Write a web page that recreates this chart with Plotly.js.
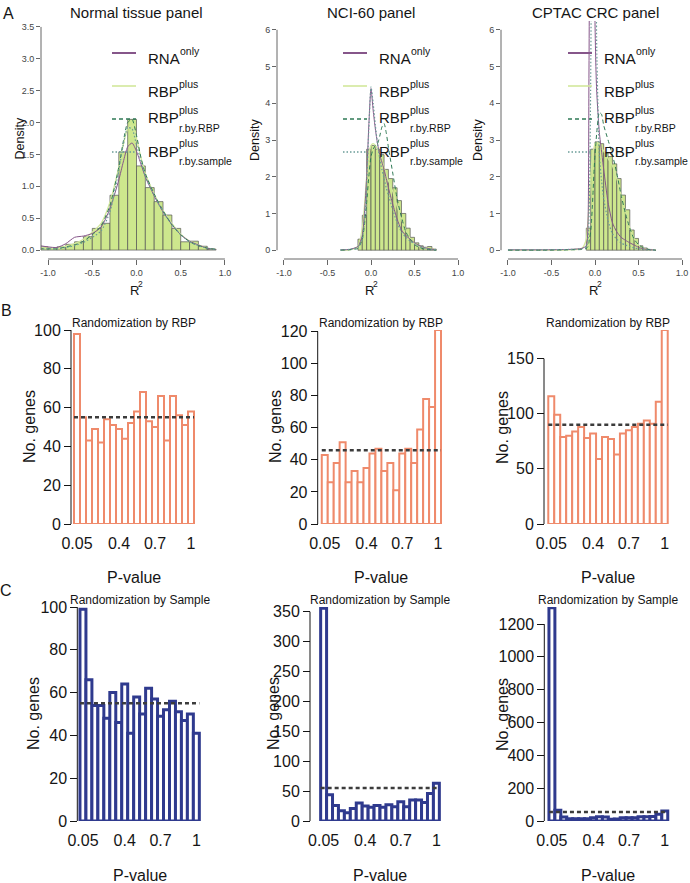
<!DOCTYPE html>
<html>
<head>
<meta charset="utf-8">
<script src="https://cdn.plot.ly/plotly-3.0.1.min.js"></script>
<style>
  html, body { margin: 0; padding: 0; background: #fff; }
  #chart { width: 690px; height: 883px; }
</style>
</head>
<body>
<div id="chart"></div>
<script>
// ---------- row A: density of R^2 ----------
const r2TickVals = [-1, -0.5, 0, 0.5, 1];
const r2TickText = ['-1.0', '-0.5', '0.0', '0.5', '1.0'];
const normDensTicks = [0, 0.5, 1, 1.5, 2, 2.5, 3, 3.5];
const normDensText = ['0.0', '0.5', '1.0', '1.5', '2.0', '2.5', '3.0', '3.5'];
const panelDensTicks = [0, 1, 2, 3, 4, 5, 6];

// Normal tissue panel
const normBins = [-1.1, -1.0, -0.9, -0.8, -0.7, -0.6, -0.5, -0.4, -0.3, -0.2, -0.1, 0.0, 0.1, 0.2, 0.3, 0.4, 0.5, 0.6, 0.7, 0.8];
const normHist = [0.05, 0.03, 0.05, 0.09, 0.13, 0.21, 0.34, 0.42, 0.86, 1.54, 2.05, 1.32, 0.98, 0.76, 0.55, 0.34, 0.13, 0.14, 0.06, 0.01];
const normGrid = [-1.1, -1.0, -0.9, -0.8, -0.7, -0.6, -0.5, -0.4, -0.3, -0.2, -0.15, -0.1, -0.05, 0, 0.05, 0.1, 0.2, 0.3, 0.4, 0.5, 0.6, 0.7, 0.8, 0.9];
const normRna    = [0.07, 0.05, 0.04, 0.1, 0.2, 0.22, 0.26, 0.36, 0.65, 1.1, 1.38, 1.62, 1.68, 1.55, 1.35, 1.15, 0.85, 0.6, 0.4, 0.24, 0.14, 0.08, 0.03, 0.01];
const normPlus   = [0.04, 0.03, 0.03, 0.06, 0.1, 0.17, 0.28, 0.42, 0.75, 1.3, 1.65, 1.9, 1.95, 1.75, 1.45, 1.2, 0.88, 0.62, 0.42, 0.25, 0.14, 0.08, 0.03, 0.01];
const normRbp    = [0.02, 0.02, 0.02, 0.05, 0.08, 0.14, 0.24, 0.38, 0.7, 1.3, 1.7, 2.0, 2.05, 1.8, 1.45, 1.2, 0.88, 0.62, 0.4, 0.24, 0.13, 0.07, 0.03, 0.01];
const normSample = [0.02, 0.02, 0.02, 0.04, 0.07, 0.12, 0.2, 0.3, 0.6, 1.25, 1.65, 1.92, 1.9, 1.65, 1.4, 1.15, 0.86, 0.6, 0.4, 0.24, 0.13, 0.07, 0.03, 0.01];

// NCI-60 panel
const nciBins = [-0.15, -0.1, -0.05, 0, 0.05, 0.1, 0.15, 0.2, 0.25, 0.3, 0.35, 0.4, 0.45, 0.5, 0.55, 0.6, 0.65, 0.7];
const nciHist = [0.3, 0.95, 2.75, 2.85, 2.75, 2.6, 2.2, 1.95, 1.7, 1.35, 1.0, 0.6, 0.35, 0.2, 0.12, 0.08, 0.1, 0.03];
const nciGrid = [-0.35, -0.25, -0.15, -0.1, -0.075, -0.05, -0.025, 0, 0.025, 0.05, 0.075, 0.1, 0.125, 0.15, 0.175, 0.2, 0.25, 0.3, 0.35, 0.4, 0.45, 0.5, 0.55, 0.6, 0.65, 0.75];
const nciRna    = [0.01, 0.02, 0.1, 0.4, 1.0, 2.0, 3.4, 4.4, 3.8, 3.3, 2.9, 2.6, 2.4, 2.2, 1.95, 1.7, 1.25, 0.85, 0.55, 0.4, 0.3, 0.2, 0.13, 0.08, 0.05, 0.01];
const nciPlus   = [0, 0.01, 0.1, 0.6, 1.2, 2.0, 2.6, 2.85, 2.9, 2.85, 2.75, 2.6, 2.45, 2.25, 2.05, 1.9, 1.6, 1.2, 0.85, 0.55, 0.32, 0.18, 0.1, 0.07, 0.06, 0.01];
const nciRbp    = [0, 0.01, 0.05, 0.3, 0.7, 1.3, 2.0, 2.55, 2.75, 2.85, 2.9, 3.1, 3.35, 3.45, 3.2, 2.8, 2.1, 1.4, 0.9, 0.5, 0.3, 0.15, 0.08, 0.04, 0.02, 0];
const nciSample = [0.01, 0.02, 0.08, 0.3, 0.8, 1.8, 3.3, 4.45, 4.0, 3.4, 2.9, 2.5, 2.2, 1.95, 1.7, 1.5, 1.1, 0.75, 0.5, 0.35, 0.25, 0.17, 0.11, 0.07, 0.04, 0.01];

// CPTAC CRC panel
const crcBins = [-0.1, -0.05, 0, 0.05, 0.1, 0.15, 0.2, 0.25, 0.3, 0.35, 0.4, 0.45, 0.5, 0.55, 0.6];
const crcHist = [0.6, 2.75, 2.95, 2.9, 2.65, 2.55, 2.35, 1.95, 1.5, 1.1, 0.55, 0.32, 0.12, 0.06, 0.02];
const crcGrid = [-1.0, -0.6, -0.3, -0.15, -0.1, -0.08, -0.07, -0.06, -0.05, -0.04, -0.03, -0.02, -0.01, 0, 0.01, 0.02, 0.05, 0.075, 0.1, 0.15, 0.2, 0.25, 0.3, 0.35, 0.4, 0.45, 0.5, 0.55, 0.6, 0.7];
const crcRna    = [0.01, 0.01, 0.02, 0.05, 0.12, 0.8, 4.5, 9, 12, 13, 12, 10, 8, 6.2, 5.0, 4.3, 3.2, 2.7, 2.2, 1.3, 0.75, 0.5, 0.35, 0.27, 0.2, 0.14, 0.08, 0.04, 0.02, 0];
const crcPlus   = [0, 0, 0.01, 0.05, 0.3, 0.8, 1.2, 1.6, 2.0, 2.3, 2.5, 2.7, 2.8, 2.9, 2.92, 2.93, 2.9, 2.8, 2.7, 2.5, 2.3, 1.95, 1.5, 1.05, 0.6, 0.32, 0.14, 0.06, 0.02, 0];
const crcRbp    = [0, 0, 0.01, 0.02, 0.05, 0.1, 0.2, 0.35, 0.5, 0.8, 1.2, 1.7, 2.2, 2.6, 2.9, 3.2, 3.75, 3.7, 3.4, 3.0, 2.6, 2.1, 1.5, 1.0, 0.6, 0.3, 0.15, 0.07, 0.03, 0];
const crcSample = [0.01, 0.01, 0.02, 0.04, 0.1, 0.3, 0.8, 2, 4.5, 8, 11, 12.5, 12.5, 11, 8.5, 5.5, 2.6, 1.9, 1.4, 0.8, 0.45, 0.3, 0.2, 0.14, 0.1, 0.06, 0.04, 0.02, 0.01, 0];

// ---------- rows B and C: p-value histograms ----------
const pLabels = ['0.05', '0.1', '0.15', '0.2', '0.25', '0.3', '0.35', '0.4', '0.45', '0.5', '0.55', '0.6', '0.65', '0.7', '0.75', '0.8', '0.85', '0.9', '0.95', '1'];
const pTickLabels = ['0.05', '0.4', '0.7', '1'];
const rbpNormal = [98, 55, 43, 49, 42, 54, 51, 49, 44, 52, 58, 68, 53, 50, 66, 43, 66, 56, 51, 58];
const rbpNci    = [43, 26, 38, 51, 26, 33, 26, 35, 44, 47, 33, 38, 21, 44, 47, 38, 59, 78, 73, 121];
const rbpCrc    = [116, 99, 79, 80, 84, 88, 78, 82, 59, 79, 77, 63, 82, 85, 88, 91, 94, 91, 111, 176];
const rbpExpected = [55, 46, 90];
const smpNormal = [99, 66, 54, 54, 48, 60, 46, 64, 41, 58, 50, 62, 57, 49, 52, 56, 51, 47, 50, 41];
const smpNci    = [356, 44, 26, 17, 14, 21, 30, 25, 23, 26, 23, 27, 24, 32, 24, 35, 35, 31, 46, 63];
const smpCrc    = [1300, 65, 24, 14, 14, 14, 14, 20, 26, 24, 10, 12, 20, 20, 20, 26, 26, 28, 41, 61];
const smpExpected = [55, 55, 55];
const countTicksB = [[0, 20, 40, 60, 80, 100], [0, 20, 40, 60, 80, 100, 120], [0, 50, 100, 150]];
const countTicksC = [[0, 20, 40, 60, 80, 100], [0, 50, 100, 150, 200, 250, 300, 350], [0, 200, 400, 600, 800, 1000, 1200]];

const panelTitles = ['Normal tissue panel', 'NCI-60 panel', 'CPTAC CRC panel'];

// ---------- layout helpers ----------
const W = 690, H = 883;
const px = x => x / W;
const py = y => 1 - y / H;
const FONT = 'Liberation Sans, Arial, Helvetica, sans-serif';
const INK = '#151515';

const traces = [];
const shapes = [];
const annotations = [];
const layout = {
  width: W, height: H,
  margin: { l: 0, r: 0, t: 0, b: 0 },
  paper_bgcolor: '#fff', plot_bgcolor: '#fff',
  showlegend: false, bargap: 0,
  font: { family: FONT, color: INK }
};

function txt(text, x, y, size, extra) {
  return Object.assign({
    text: text, x: px(x), y: py(y), xref: 'paper', yref: 'paper',
    showarrow: false, xanchor: 'center', yanchor: 'middle', borderpad: 0,
    font: { family: FONT, size: size, color: INK }
  }, extra || {});
}

// ---------- row A ----------
const styles = {
  plus:   { color: '#d3e89c', width: 1.3, dash: 'solid' },
  rna:    { color: '#86568a', width: 1, dash: 'solid' },
  rbp:    { color: '#2f7a55', width: 1, dash: '4px,3px' },
  sample: { color: '#6a9c98', width: 1.2, dash: '1.5px,2px' }
};
const densData = [
  { bins: normBins, hist: normHist, w: 0.1, grid: normGrid, plus: normPlus, rna: normRna, rbp: normRbp, sample: normSample },
  { bins: nciBins, hist: nciHist, w: 0.05, grid: nciGrid, plus: nciPlus, rna: nciRna, rbp: nciRbp, sample: nciSample },
  { bins: crcBins, hist: crcHist, w: 0.05, grid: crcGrid, plus: crcPlus, rna: crcRna, rbp: crcRbp, sample: crcSample }
];
const boxA = [
  { x: [41, 232], y: [18, 259], yr: [-0.14, 3.64], ticks: normDensTicks, text: normDensText, lab: 20, leg: 112 },
  { x: [277, 465], y: [21, 259], yr: [-0.24, 6.24], ticks: panelDensTicks, text: panelDensTicks.map(String), lab: 255, leg: 343 },
  { x: [501, 689], y: [21, 259], yr: [-0.24, 6.24], ticks: panelDensTicks, text: panelDensTicks.map(String), lab: 478, leg: 568 }
];

const measure = document.createElement('canvas').getContext('2d');
function textWidth(s, size) {
  measure.font = size + 'px "Liberation Sans", Arial, sans-serif';
  return measure.measureText(s).width;
}

const legendItems = [
  { base: 'RNA', sup: 'only', sub: '', key: 'rna', lw: 2 },
  { base: 'RBP', sup: 'plus', sub: '', key: 'plus', lw: 1.6 },
  { base: 'RBP', sup: 'plus', sub: 'r.by.RBP', key: 'rbp', lw: 1.5 },
  { base: 'RBP', sup: 'plus', sub: 'r.by.sample', key: 'sample', lw: 1.5 }
];
const legendY = [53, 86, 119, 152];

densData.forEach((d, i) => {
  const s = i === 0 ? '' : String(i + 1);
  const b = boxA[i];
  traces.push({
    type: 'bar', x: d.bins, y: d.hist, width: d.w, offset: 0,
    xaxis: 'x' + s, yaxis: 'y' + s,
    marker: { color: '#cde78d', line: { color: '#555', width: 0.7 } },
    hoverinfo: 'skip'
  });
  ['plus', 'rna', 'rbp', 'sample'].forEach(k => {
    traces.push({
      type: 'scatter', mode: 'lines', x: d.grid, y: d[k],
      xaxis: 'x' + s, yaxis: 'y' + s,
      line: Object.assign({ shape: 'spline', smoothing: 0.6 }, styles[k]),
      hoverinfo: 'skip'
    });
  });
  layout['xaxis' + s] = {
    domain: [px(b.x[0]), px(b.x[1])], anchor: 'y' + s, range: [-1.08, 1.08],
    tickvals: r2TickVals, ticktext: r2TickText, ticks: 'outside', ticklen: 5,
    tickcolor: '#666', tickfont: { size: 9, color: '#444', family: FONT },
    showgrid: false, zeroline: false, showline: false, fixedrange: true
  };
  layout['yaxis' + s] = {
    domain: [py(b.y[1]), py(b.y[0])], anchor: 'x' + s, range: b.yr,
    tickvals: b.ticks, ticktext: b.text, ticks: 'outside', ticklen: 4,
    tickcolor: '#666', tickfont: { size: 9, color: '#444', family: FONT },
    showgrid: false, zeroline: false, showline: false, fixedrange: true
  };
  shapes.push({ type: 'line', xref: 'x' + s, yref: 'y' + s + ' domain', x0: -1, x1: 1, y0: 0, y1: 0,
    line: { color: '#666', width: 1 } });
  shapes.push({ type: 'line', xref: 'x' + s + ' domain', yref: 'y' + s, x0: 0, x1: 0, y0: 0, y1: b.ticks[b.ticks.length - 1],
    line: { color: '#666', width: 1 } });

  const cx = (b.x[0] + b.x[1]) / 2;
  annotations.push(txt(panelTitles[i], cx, 12, 15));
  annotations.push(txt('Density', b.lab, (b.y[0] + b.y[1]) / 2, 12.5, { textangle: -90 }));
  annotations.push(txt('R', cx - 2, 290, 13));
  annotations.push(txt('2', cx + 4, 284, 8.5));

  // legend
  legendItems.forEach((it, j) => {
    const ly = legendY[j];
    const st = styles[it.key];
    shapes.push({ type: 'line', xref: 'paper', yref: 'paper',
      x0: px(b.leg), x1: px(b.leg + 24), y0: py(ly), y1: py(ly),
      line: { color: st.color, width: it.lw, dash: st.dash } });
    const tx = b.leg + 35;
    const baseY = it.sub ? ly - 1 : ly + 6;
    const sx = tx + textWidth(it.base, 15) + 0.5;
    annotations.push(txt(it.base, tx, baseY, 15, { xanchor: 'left' }));
    annotations.push(txt(it.sup, sx, baseY - 8, 10.5, { xanchor: 'left' }));
    if (it.sub) annotations.push(txt(it.sub, sx, baseY + 10, 10.5, { xanchor: 'left' }));
  });
});

// ---------- rows B and C ----------
const countRows = [
  { series: [rbpNormal, rbpNci, rbpCrc], expected: rbpExpected, ticks: countTicksB,
    color: '#ef8a6b', lw: 2, y: [330, 524], top: [100, 121, 176],
    x: [[69.2, 198.8], [317, 445.8], [543.5, 672.5]], axisX: [71, 317.7, 544],
    label: 'Randomization by RBP', labX: [29, 275, 502], pY: 577 },
  { series: [smpNormal, smpNci, smpCrc], expected: smpExpected, ticks: countTicksC,
    color: '#2f3a8e', lw: 3, y: [607, 821], top: [100, 358, 1304],
    x: [[75.2, 204.1], [315.9, 444.1], [544.2, 672.5]], axisX: [77.3, 310, 544.3],
    label: 'Randomization by Sample', labX: [33, 273, 502], pY: 875 }
];

countRows.forEach((row, r) => {
  row.series.forEach((vals, i) => {
    const n = 4 + r * 3 + i;
    const s = String(n);
    traces.push({
      type: 'bar', x: pLabels, y: vals, xaxis: 'x' + s, yaxis: 'y' + s,
      marker: { color: '#fff', line: { color: row.color, width: row.lw } },
      hoverinfo: 'skip'
    });
    const tk = row.ticks[i];
    layout['xaxis' + s] = {
      domain: [px(row.x[i][0]), px(row.x[i][1])], anchor: 'y' + s,
      type: 'category', categoryorder: 'array', categoryarray: pLabels,
      range: [-1.3, pLabels.length + 0.3], tickvals: pTickLabels, ticks: '',
      ticklabelstandoff: 8, tickfont: { size: 16, color: INK, family: FONT },
      showgrid: false, zeroline: false, showline: false, fixedrange: true
    };
    layout['yaxis' + s] = {
      domain: [py(row.y[1]), py(row.y[0])], anchor: 'free', position: px(row.axisX[i]),
      range: [0, row.top[i]], tickvals: tk, ticks: 'outside', ticklen: 7,
      tickcolor: INK, tickfont: { size: 16, color: INK, family: FONT },
      showgrid: false, zeroline: false, showline: false, fixedrange: true
    };
    shapes.push({ type: 'line', xref: 'paper', yref: 'y' + s,
      x0: px(row.axisX[i]), x1: px(row.axisX[i]), y0: 0, y1: tk[tk.length - 1],
      line: { color: INK, width: 1 } });
    shapes.push({ type: 'line', xref: 'x' + s, yref: 'y' + s,
      x0: -0.5, x1: pLabels.length - 0.5, y0: row.expected[i], y1: row.expected[i],
      line: { color: '#3c3c3c', width: 2.5, dash: '4px,3px' } });
    const cx = (row.x[i][0] + row.x[i][1]) / 2;
    annotations.push(txt(row.label, cx, row.y[0] - 7, 12));
    annotations.push(txt('No. genes', row.labX[i], (row.y[0] + row.y[1]) / 2, 16, { textangle: -90 }));
    annotations.push(txt('P-value', cx, row.pY, 16));
  });
});

// panel letters
annotations.push(txt('A', 8, 13, 16));
annotations.push(txt('B', 7, 310, 16));
annotations.push(txt('C', 6, 590, 16));

layout.shapes = shapes;
layout.annotations = annotations;

Plotly.newPlot('chart', traces, layout, { staticPlot: true, displayModeBar: false });
</script>
</body>
</html>
